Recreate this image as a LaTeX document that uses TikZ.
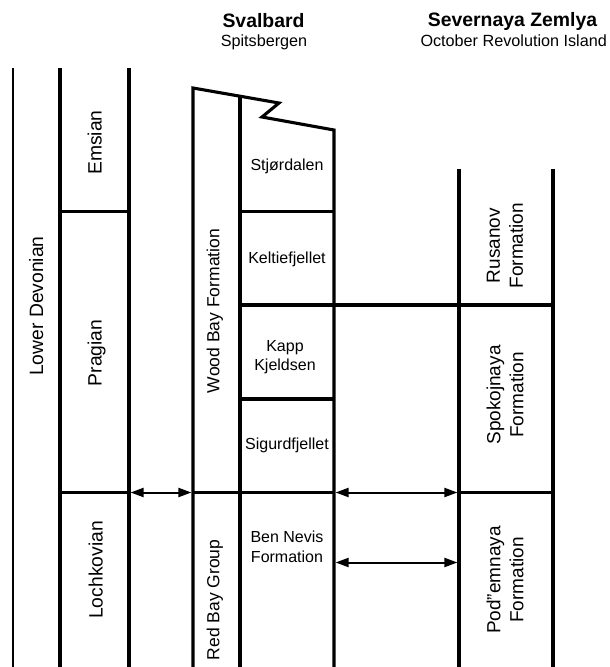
\documentclass[tikz,border=0pt]{standalone}
\usepackage{fontspec}
\setmainfont{Liberation Sans}
\usetikzlibrary{arrows.meta}
\begin{document}
\begin{tikzpicture}[x=1pt,y=-1pt,
  bnd/.style={line width=3.1pt},
  thinbnd/.style={line width=2.5pt},
  link/.style={line width=2pt,{Triangle[length=13pt,width=9pt]}-{Triangle[length=13pt,width=9pt]}},
  hdr/.style={font=\fontsize{19.4}{22}\selectfont\bfseries, anchor=base, inner sep=0pt},
  sub/.style={font=\fontsize{16.2}{19}\selectfont, anchor=base, inner sep=0pt},
  unit/.style={font=\fontsize{16}{19.7}\selectfont, align=center, inner sep=0pt},
  stage/.style={font=\fontsize{19.3}{23}\selectfont, rotate=90, anchor=base, inner sep=0pt},
  grp/.style={font=\fontsize{17.5}{21}\selectfont, rotate=90, anchor=base, inner sep=0pt},
  fm/.style={font=\fontsize{19}{23}\selectfont, rotate=90, align=center, inner sep=0pt},
]
\useasboundingbox (0,0) rectangle (610,667);

% headers
\node[hdr] (svb) at (263.5,27.3) {Svalbard};
\node[sub] (spb) at (264,46.7) {Spitsbergen};
\node[hdr] (sz) at (512.5,26.7) {Severnaya Zemlya};
\node[sub] (ori) at (513.7,46) {October Revolution Island};

% coordinates
\coordinate (a1) at (129,492.5);
\coordinate (a2) at (193,492.5);
\coordinate (b1) at (334,492.5);
\coordinate (b2) at (459,492.5);
\coordinate (c1) at (334,562.5);
\coordinate (c2) at (459,562.5);

% vertical column lines
\draw[thinbnd] (13,68) -- (13,667);
\draw[bnd] (60,68) -- (60,667);
\draw[bnd] (129,68) -- (129,667);
\draw[bnd, line join=miter] (193,667) -- (193,88) -- (279,103) -- (262,117) -- (334,130) -- (334,667);
\draw[bnd] (240,96.2) -- (240,667);
\draw[bnd] (459,169) -- (459,667);
\draw[bnd] (553,169) -- (553,667);

% horizontal boundaries
\draw[bnd] (60,211.5) -- (129,211.5);
\draw[bnd] (240,211.5) -- (334,211.5);
\draw[bnd] (240,305) -- (553,305);
\draw[bnd] (240,399) -- (334,399);
\draw[bnd] (60,492.5) -- (129,492.5);
\draw[bnd] (193,492.5) -- (334,492.5);
\draw[bnd] (459,492.5) -- (553,492.5);

% correlation arrows
\draw[link, shorten <=1.6pt, shorten >=1.6pt] (a1) -- (a2);
\draw[link, shorten <=1.6pt, shorten >=1.6pt] (b1) -- (b2);
\draw[link, shorten <=1.6pt, shorten >=1.6pt] (c1) -- (c2);

% stage labels
\node[stage] (ld) at (43,306) {Lower Devonian};
\node[stage] (ems) at (101.7,142.5) {Emsian};
\node[stage] (pra) at (101.7,353) {Pragian};
\node[stage] (loc) at (102.5,570) {Lochkovian};

% Svalbard
\node[grp] (wbf) at (219.3,311) {Wood Bay Formation};
\node[grp] (rbg) at (219.3,600) {Red Bay Group};
\node[unit, anchor=base] (stj) at (287,170) {Stjørdalen};
\node[unit, anchor=base] (kel) at (287,263) {Keltiefjellet};
\node[unit] (kap) at (285,357) {Kapp\\Kjeldsen};
\node[unit, anchor=base] (sig) at (287,449) {Sigurdfjellet};
\node[unit] (ben) at (287,547) {Ben Nevis\\Formation};

% Severnaya Zemlya
\node[fm] (rus) at (505,245.7) {Rusanov\\Formation};
\node[fm] (spo) at (505,395) {Spokojnaya\\Formation};
\node[fm] (pod) at (505,580) {Pod\char34 emnaya\\Formation};
\end{tikzpicture}
\end{document}
